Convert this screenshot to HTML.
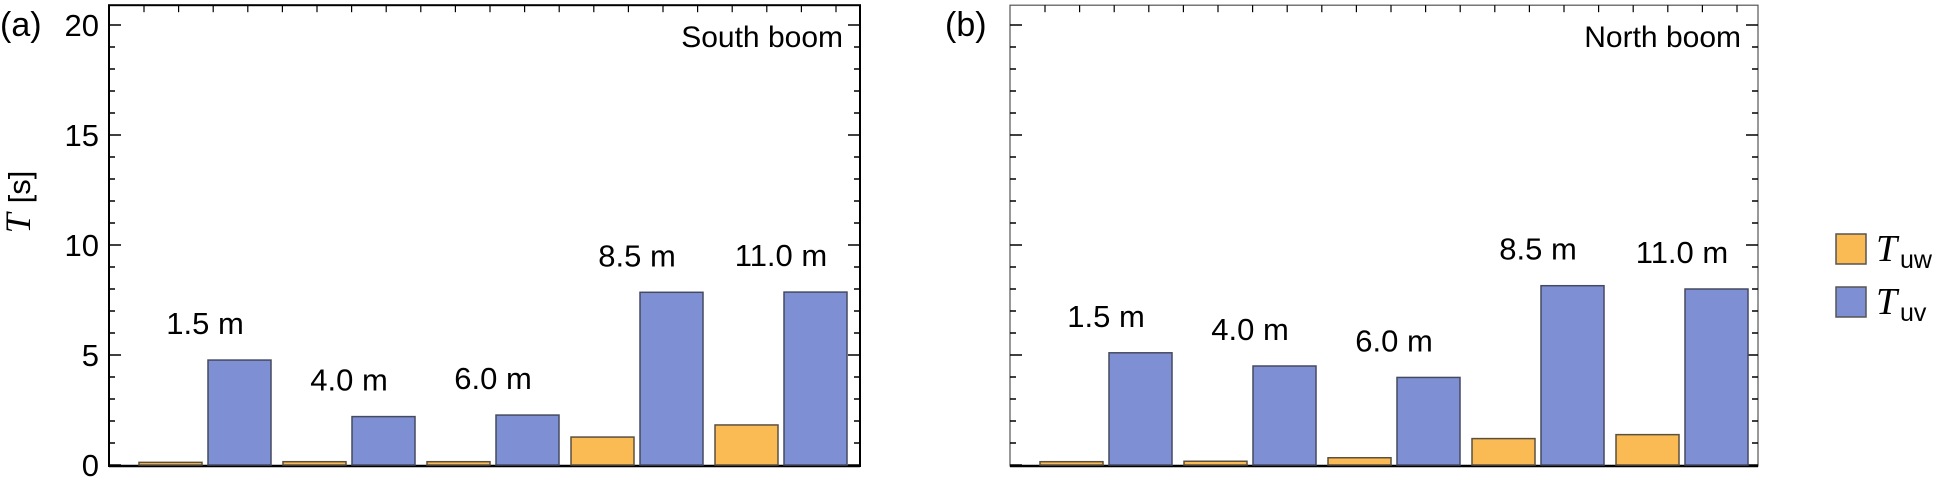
<!DOCTYPE html>
<html><head><meta charset="utf-8"><style>
html,body{margin:0;padding:0;background:#fff;}
svg{display:block;font-family:"Liberation Sans",sans-serif;}
</style></head><body>
<svg id="chart" width="1954" height="478" viewBox="0 0 1954 478"></svg>
<script>
const categories = ["1.5 m","4.0 m","6.0 m","8.5 m","11.0 m"];
const southUW = [0.12, 0.15, 0.15, 1.27, 1.82];
const southUV = [4.77, 2.2, 2.27, 7.85, 7.86];
const northUW = [0.15, 0.17, 0.33, 1.2, 1.38];
const northUV = [5.1, 4.5, 3.98, 8.15, 8.0];
const yTicks = [0, 5, 10, 15, 20];

const NS = "http://www.w3.org/2000/svg";
const svg = document.getElementById("chart");
function mk(tag, attrs, parent) {
  const e = document.createElementNS(NS, tag);
  for (const k in attrs) e.setAttribute(k, attrs[k]);
  (parent || svg).appendChild(e);
  return e;
}
const Y0 = 465, PXU = 22, YMAX = 20.9;
function yS(v) { return Y0 - v * PXU; }
const ORANGE = "#fbbb54", BLUE = "#7f8fd3";

function panel(name, left, right, uw, uv, title, showLabels, letter, letterX) {
  const g = mk("g", {});
  
  
  const top = yS(YMAX);
  // frame
  const fr = mk("rect", {x: left, y: top, width: right - left, height: 466 - top, fill: "none", stroke: showLabels ? "#000" : "#555", "stroke-width": showLabels ? 2 : 1.2}, g);
  
  
  // y ticks
  for (let v = 0; v <= 20; v++) {
    const major = v % 5 === 0;
    const len = major ? 12 : 6;
    mk("line", {x1: left, x2: left + len, y1: yS(v), y2: yS(v), stroke: "#000", "stroke-width": 1.5}, g);
    mk("line", {x1: right, x2: right - len, y1: yS(v), y2: yS(v), stroke: "#000", "stroke-width": 1.5}, g);
  }
  // top ticks
  for (let x = left + 35; x < right; x += 34.6) {
    mk("line", {x1: x, x2: x, y1: top, y2: top + 7, stroke: "#000", "stroke-width": 1.2}, g);
  }
  if (showLabels) {
    yTicks.forEach(v => {
      const t = mk("text", {x: left - 10, y: yS(v) + 11, "text-anchor": "end", "font-size": 31}, g);
      t.textContent = v;
      
      
    });
  }
  // x axis
  const ax = mk("line", {x1: left, x2: right, y1: 466, y2: 466, stroke: "#000", "stroke-width": 2.5}, g);
  
  
  const start = left + 30, pitch = 144, bw = 63;
  categories.forEach((c, i) => {
    const xo = start + i * pitch, xb = xo + 69;
    const r1 = mk("rect", {x: xo, y: yS(uw[i]), width: bw, height: Y0 - yS(uw[i]), fill: ORANGE, stroke: "#5a5040", "stroke-width": 1.5}, g);
    
    
    const r2 = mk("rect", {x: xb, y: yS(uv[i]), width: bw, height: Y0 - yS(uv[i]), fill: BLUE, stroke: "#454a60", "stroke-width": 1.5}, g);
    
    
    const top2 = Math.max(uw[i], uv[i]);
    const t = mk("text", {x: xo + 66, y: yS(top2) - 26, "text-anchor": "middle", "font-size": 31}, g);
    t.textContent = c;
    
    
  });
  const tt = mk("text", {x: right - 17, y: 47, "text-anchor": "end", "font-size": 30}, g);
  tt.textContent = title;
  
  
  const lt = mk("text", {x: letterX, y: 36, "font-size": 34}, g);
  lt.textContent = letter;
  
  
}
panel("panel-south", 109, 860, southUW, southUV, "South boom", true, "(a)", 0);
panel("panel-north", 1010, 1758, northUW, northUV, "North boom", false, "(b)", 945);

// y axis title
const yt = mk("text", {transform: "translate(30,202) rotate(-90)", "text-anchor": "middle", "font-size": 31});


const ys1 = mk("tspan", {"font-family": "Liberation Serif, serif", "font-style": "italic", "font-size": 36}, yt);
ys1.textContent = "T";
const ys2 = mk("tspan", {dx: 10}, yt);
ys2.textContent = "[s]";

// legend
[["uw", ORANGE, 234], ["uv", BLUE, 287]].forEach(([lab, col, y]) => {
  const g = mk("g", {});
  
  
  mk("rect", {x: 1836, y: y, width: 30, height: 30, fill: col, stroke: "#555", "stroke-width": 1.5}, g);
  const t = mk("text", {x: 1876, y: y + 27, "font-size": 38, "font-family": "Liberation Serif, serif", "font-style": "italic"}, g);
  t.textContent = "T";
  const s = mk("text", {x: 1900, y: y + 34, "font-size": 25}, g);
  s.textContent = lab;
});
</script>
</body></html>
